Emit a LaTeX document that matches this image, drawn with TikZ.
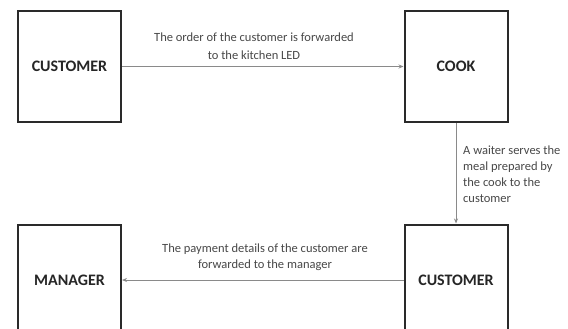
\documentclass[tikz,border=0pt]{standalone}
\usepackage{fontspec}
\setmainfont{Carlito}
\usetikzlibrary{arrows.meta}
\definecolor{boxline}{HTML}{2A2A2A}
\definecolor{arrline}{HTML}{8A8A8A}
\definecolor{lbl}{HTML}{484848}
\begin{document}
\begin{tikzpicture}[x=1pt,y=-1pt,
  entity/.style={draw=boxline, line width=2pt, minimum width=103pt, minimum height=111pt, inner sep=0pt,
    font=\fontsize{16}{18}\selectfont\bfseries, text=black!85},
  flow/.style={draw=arrline, line width=0.9pt, -{Stealth[length=5pt,width=4pt]}},
  note/.style={text=lbl, font=\fontsize{12.5}{16}\selectfont, inner sep=0pt}]
\useasboundingbox[fill=white] (0,0) rectangle (568,329);
\node[entity] (cust1) at (69.5,66.5) {CUSTOMER};
\node[entity] (cook) at (456,66.5) {COOK};
\node[entity] (mgr) at (69.5,280) {MANAGER};
\node[entity] (cust2) at (456,280) {CUSTOMER};
\draw[flow] (cust1) -- (cook);
\draw[flow] (cook) -- (cust2);
\draw[flow] (cust2) -- (mgr);
\node[note, align=center, font=\fontsize{12.5}{18.5}\selectfont] (l1) at (254,46) {The order of the customer is forwarded\\to the kitchen LED};
\node[note, align=left, anchor=north west] (l2) at (463,146) {A waiter serves the\\meal prepared by\\the cook to the\\customer};
\node[note, align=center] (l3) at (265,257) {The payment details of the customer are\\forwarded to the manager};
\end{tikzpicture}
\end{document}
